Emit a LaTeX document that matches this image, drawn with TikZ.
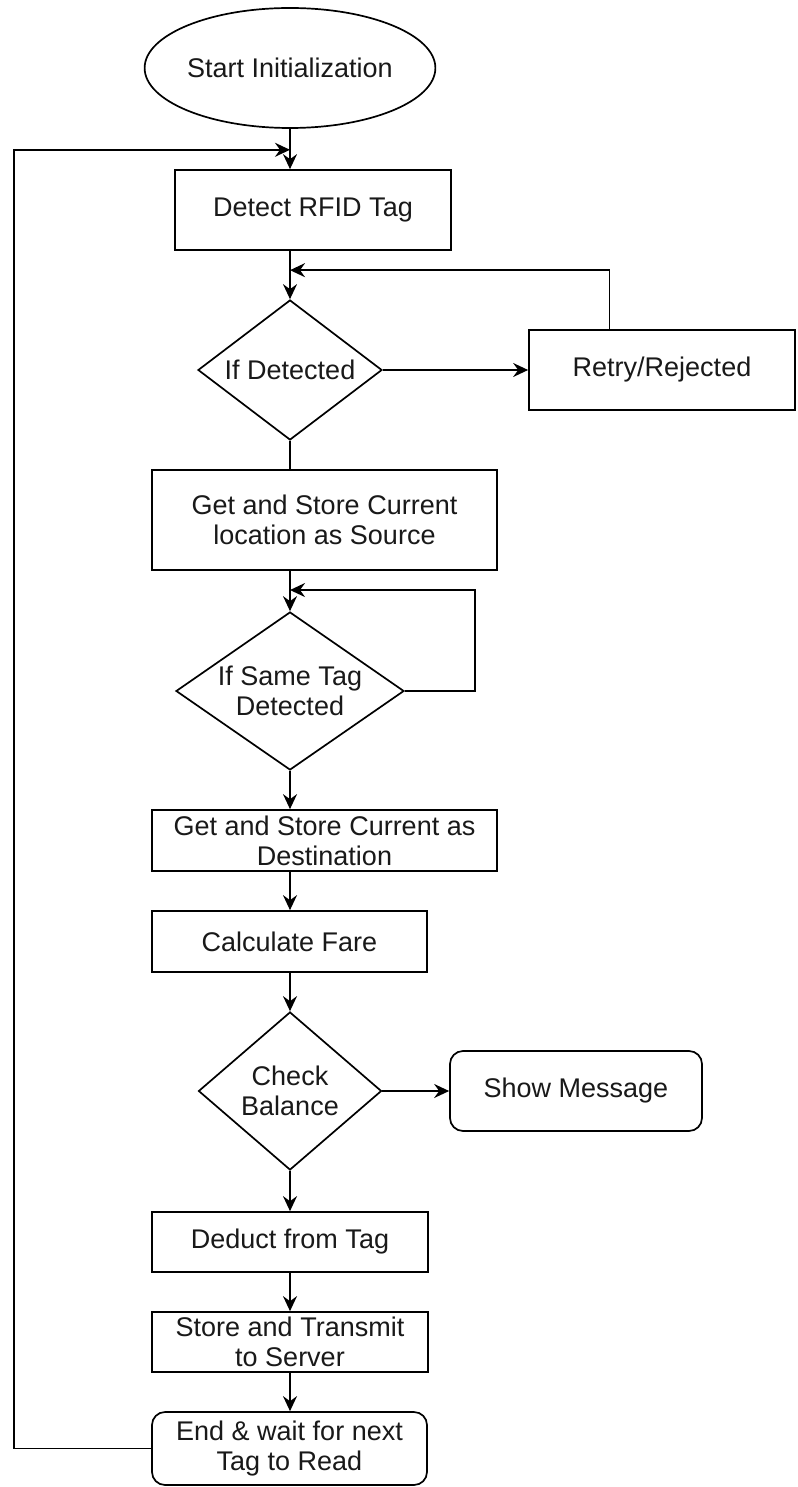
\documentclass[tikz,border=0pt]{standalone}
\usepackage{fontspec}
\setmainfont{Liberation Sans}
\usetikzlibrary{shapes.geometric,arrows.meta,calc}
\begin{document}
\begin{tikzpicture}[x=1pt,y=-1pt,
  base/.style={draw=black, line width=1.7pt, font=\fontsize{27}{30}\selectfont, text=black!90, align=center, inner sep=0pt},
  proc/.style={base, rectangle},
  term/.style={base, rectangle, rounded corners=13pt},
  dec/.style={base, diamond},
  oval/.style={base, ellipse},
  conn/.style={line width=1.7pt, draw=black},
  arr/.style={conn, -{Stealth[length=15pt,width=14pt,inset=5pt]}},
]
\useasboundingbox (0,0) rectangle (797,1487);
\fill[white] (0,0) rectangle (797,1487);

\node[oval, minimum width=276pt, minimum height=120pt] (start) at (290,68) {Start Initialization};
\node[proc, minimum width=276pt, minimum height=80pt] (detect) at (313,210) {Detect RFID Tag};
\node[dec, aspect=1.31, minimum width=184pt, minimum height=140pt] (ifdet) at (290,370) {If Detected};
\node[proc, minimum width=266pt, minimum height=80pt] (retry) at (662,370) {Retry/Rejected};
\node[proc, minimum width=345pt, minimum height=100pt] (getsrc) at (324.5,520) {Get and Store Current\\location as Source};
\node[dec, aspect=1.44, minimum width=228pt, minimum height=158pt] (same) at (290,691) {If Same Tag\\Detected};
\node[proc, minimum width=345pt, minimum height=61pt] (dest) at (324.5,840.5) {Get and Store Current as\\Destination};
\node[proc, minimum width=275pt, minimum height=61pt] (calc) at (289.5,941.5) {Calculate Fare};
\node[dec, aspect=1.16, minimum width=183pt, minimum height=158pt] (check) at (290,1091) {Check\\Balance};
\node[term, minimum width=252pt, minimum height=80pt] (show) at (576,1091) {Show Message};
\node[proc, minimum width=276pt, minimum height=60pt] (deduct) at (290,1242) {Deduct from Tag};
\node[proc, minimum width=276pt, minimum height=60pt] (store) at (290,1342) {Store and Transmit\\to Server};
\node[term, minimum width=275pt, minimum height=73pt] (endn) at (289.5,1448.5) {End \& wait for next\\Tag to Read};

\coordinate (spine) at (start.south);

% main flow
\draw[arr] (start.south) -- (spine |- detect.north);
\draw[arr] (spine |- detect.south) -- (ifdet.north);
\draw[arr] (ifdet.east) -- (retry.west);
\coordinate (rtop) at ($(retry.north west)!0.304!(retry.north east)$);
\coordinate (j1) at ($(spine |- detect.south)!0.4!(ifdet.north)$);
\draw[arr] (rtop) |- (j1);
\draw[conn] (ifdet.south) -- (spine |- getsrc.north);
\draw[arr] (spine |- getsrc.south) -- (same.north);
\coordinate (j2) at ($(spine |- getsrc.south)!0.476!(same.north)$);
\coordinate (sloop) at ($(same.east)+(70,0)$);
\draw[arr] (same.east) -- (sloop) |- (j2);
\draw[arr] (same.south) -- (spine |- dest.north);
\draw[arr] (spine |- dest.south) -- (spine |- calc.north);
\draw[arr] (spine |- calc.south) -- (check.north);
\draw[arr] (check.east) -- (show.west);
\draw[arr] (check.south) -- (spine |- deduct.north);
\draw[arr] (spine |- deduct.south) -- (spine |- store.north);
\draw[arr] (spine |- store.south) -- (spine |- endn.north);

% return loop
\coordinate (j0) at ($(start.south)!0.52!(spine |- detect.north)$);
\coordinate (leftrail) at ($(endn.west)+(-137,0)$);
\draw[arr] (endn.west) -- (leftrail) |- (j0);
\end{tikzpicture}
\end{document}
